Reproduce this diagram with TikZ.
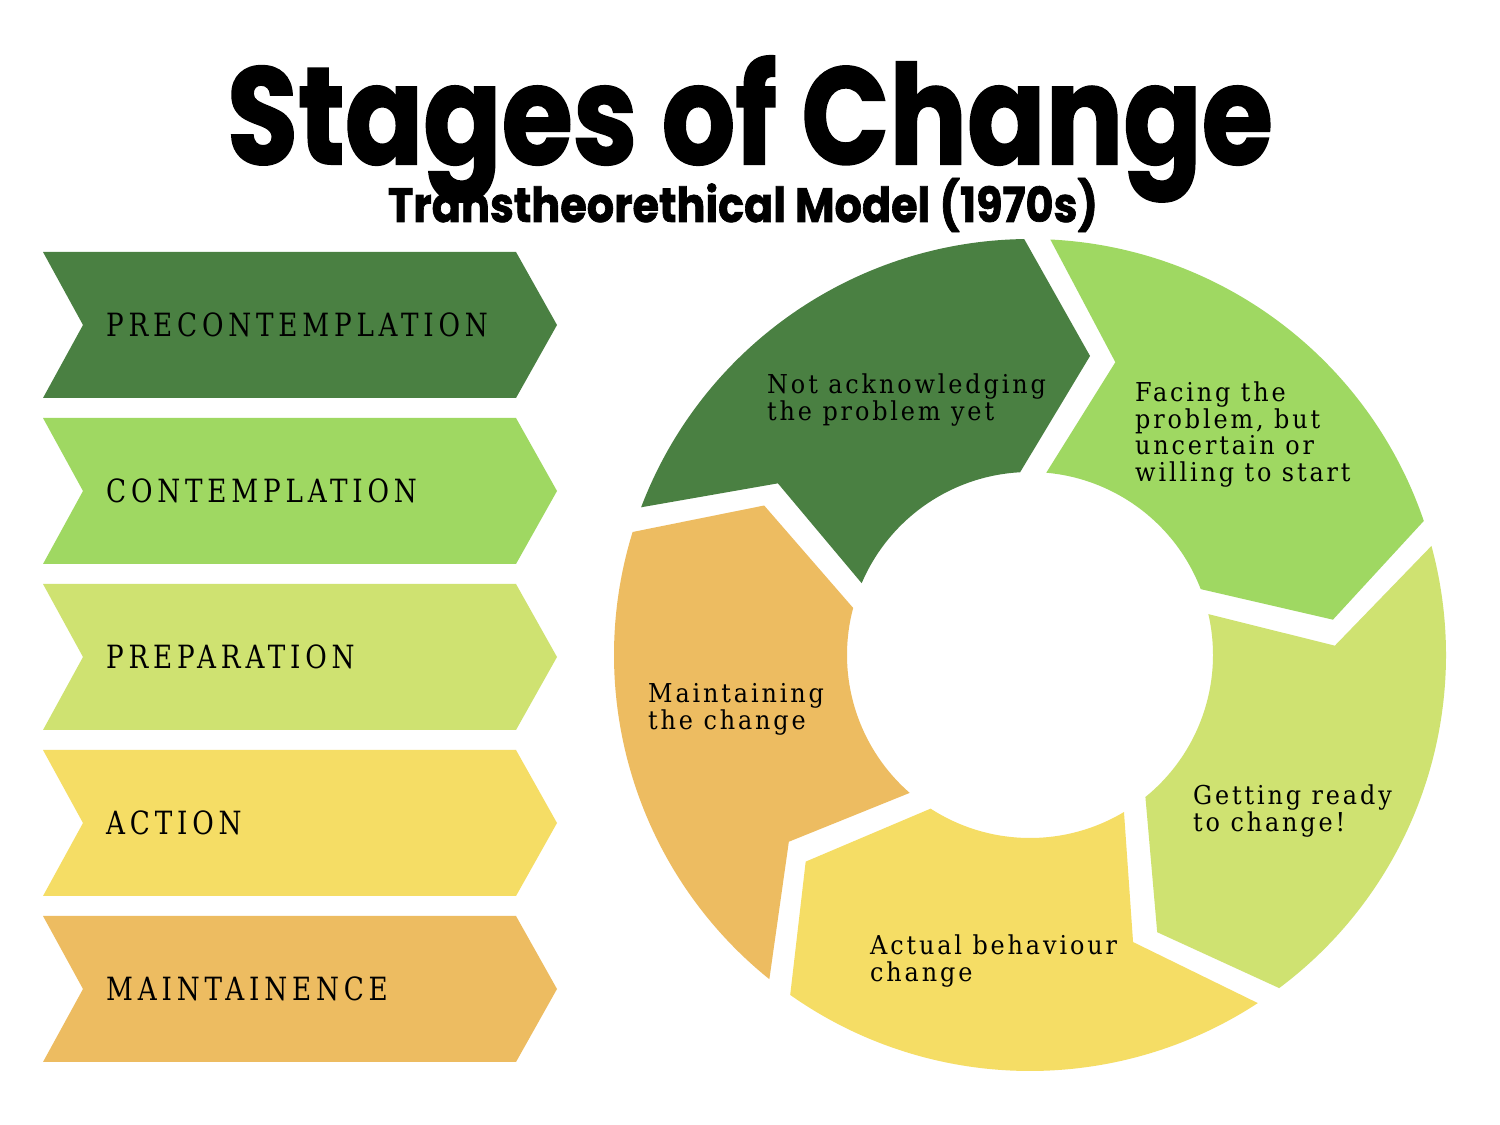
\documentclass[tikz,border=0pt]{standalone}
\usepackage{fontspec}
\usepackage{graphicx}
\newfontfamily\headfont{Poppins}[BoldFeatures={FakeBold=1.5}]
\newfontfamily\stagefont{DejaVu Serif}[FakeStretch=0.82,LetterSpace=15]
\newfontfamily\notefont{DejaVu Serif}[FakeStretch=0.92,LetterSpace=11]
\usetikzlibrary{positioning}

\definecolor{precontemp}{HTML}{4A8042}
\definecolor{contemp}{HTML}{9FD862}
\definecolor{prepare}{HTML}{CFE271}
\definecolor{act}{HTML}{F5DD65}
\definecolor{maintain}{HTML}{EDBC61}

\begin{document}
\begin{tikzpicture}[x=1pt,y=1pt,
	stagelabel/.style={anchor=base west,inner sep=0pt,font=\stagefont\fontsize{32}{32}\selectfont},
	ringlabel/.style={anchor=base west,inner sep=0pt,align=left,font=\notefont\fontsize{26}{26.5}\selectfont}]

	\useasboundingbox [fill=white] (0,0) rectangle (1500,1125);

	% heading
	\node [anchor=base,inner sep=0pt] at (750,961) (title) {\resizebox{1045pt}{108pt}{\headfont\bfseries Stages of Change}};
	\node [anchor=base,inner sep=0pt] at (743,903) (subtitle) {\resizebox{710pt}{44pt}{\headfont\bfseries Transtheorethical Model (1970s)}};

	% stage chevrons
	\foreach \col/\name [count=\i from 0] in {precontemp/PRECONTEMPLATION, contemp/CONTEMPLATION, prepare/PREPARATION, act/ACTION, maintain/MAINTAINENCE} {
		\pgfmathsetmacro\ytop{873-166*\i}
		\fill [\col] (43,\ytop) -- (516,\ytop) -- (557,\ytop-73) -- (516,\ytop-146) -- (43,\ytop-146) -- (83,\ytop-73) -- cycle;
		\node [stagelabel] at (106,\ytop-85) (stage\i) {\name};
	}

	% cycle
	\begin{scope}[shift={(1030,470)}]
		\foreach \col [count=\k from 0] in {precontemp,contemp,prepare,act,maintain} {
			\pgfmathsetmacro\angA{161-72*\k}
			\pgfmathsetmacro\angB{\angA-72}
			\fill [\col] (\angA-1.8:416pt) arc [start angle=\angA-1.8, end angle=\angB+1.8, radius=416pt]
				-- (\angB-10.35:305pt) -- (\angB+4.1:183pt)
				arc [start angle=\angB+4.1, end angle=\angA-4.1, radius=183pt]
				-- (\angA-15.25:305pt) -- cycle;
		}
	\end{scope}

	% base of a ring label is its last line
	\node [ringlabel] at (767,704.5) (noack)  {Not acknowledging\\the problem yet};
	\node [ringlabel] at (1135,643.5) (facing) {Facing the\\problem, but\\uncertain or\\willing to start};
	\node [ringlabel] at (1193,293.5) (ready)  {Getting ready\\to change!};
	\node [ringlabel] at (870,143.5) (actual) {Actual behaviour\\change};
	\node [ringlabel] at (648,395.5) (keep)   {Maintaining\\the change};

\end{tikzpicture}
\end{document}
